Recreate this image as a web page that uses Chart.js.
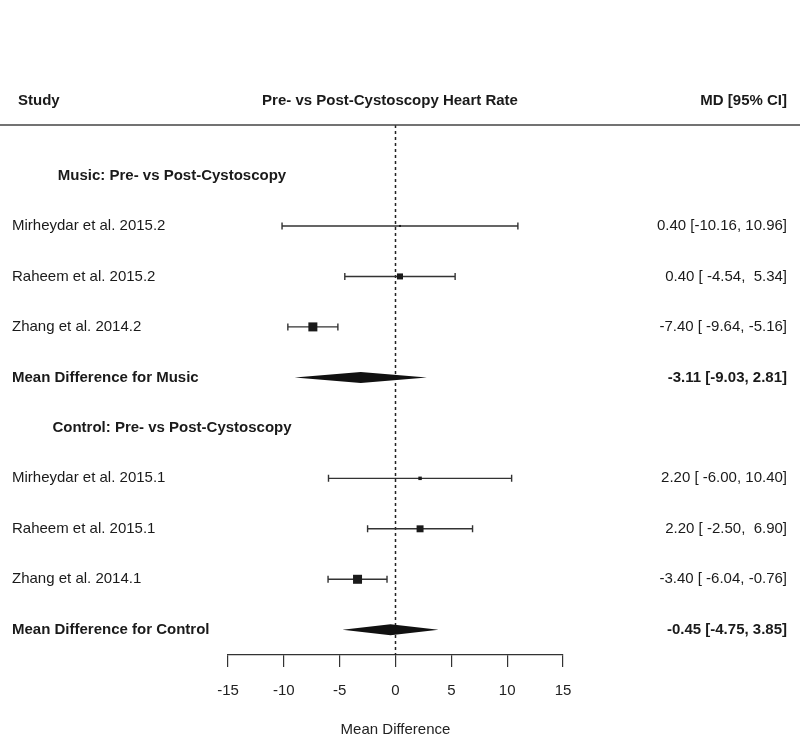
<!DOCTYPE html>
<html>
<head>
<meta charset="utf-8">
<title>Pre- vs Post-Cystoscopy Heart Rate</title>
<script src="https://cdn.jsdelivr.net/npm/chart.js@4.4.0/dist/chart.umd.min.js"></script>
<style>
  html, body { margin: 0; padding: 0; background: #fff; }
  canvas { display: block; }
</style>
</head>
<body>
<canvas id="forest" width="800" height="735"></canvas>
<script>
// study data
const groups = ["Music: Pre- vs Post-Cystoscopy", "Control: Pre- vs Post-Cystoscopy"];
const studies = ["Mirheydar et al. 2015.2", "Raheem et al. 2015.2", "Zhang et al. 2014.2",
                 "Mirheydar et al. 2015.1", "Raheem et al. 2015.1", "Zhang et al. 2014.1"];
const studyGroup = [0, 0, 0, 1, 1, 1];
const md = [0.40, 0.40, -7.40, 2.20, 2.20, -3.40];
const ciLow = [-10.16, -4.54, -9.64, -6.00, -2.50, -6.04];
const ciHigh = [10.96, 5.34, -5.16, 10.40, 6.90, -0.76];
const weights = [3.3, 30, 67, 10, 40, 67]; // relative weight (box size)

// subgroup summaries
const pooledLabels = ["Mean Difference for Music", "Mean Difference for Control"];
const pooledMd = [-3.11, -0.45];
const pooledLow = [-9.03, -4.75];
const pooledHigh = [2.81, 3.85];

const xTicks = [-15, -10, -5, 0, 5, 10, 15];

const FONT = '"Liberation Sans", Arial, Helvetica, sans-serif';
Chart.defaults.font.family = FONT;

// build the row layout: group header, studies, pooled diamond
let rows = [];
let r = 0;
groups.forEach((g, gi) => {
  rows.push({ kind: 'group', text: g, y: r++ });
  studies.forEach((s, i) => {
    if (studyGroup[i] === gi) rows.push({ kind: 'study', i: i, y: r++ });
  });
  rows.push({ kind: 'pooled', i: gi, y: r++ });
});

function f2(v) { return v.toFixed(2); }
function studyText(i) {
  return f2(md[i]) + ' [' + f2(ciLow[i]).padStart(6) + ', ' + f2(ciHigh[i]).padStart(5) + ']';
}
function pooledText(i) {
  return f2(pooledMd[i]) + ' [' + f2(pooledLow[i]) + ', ' + f2(pooledHigh[i]) + ']';
}

const studyRows = rows.filter(o => o.kind === 'study');

const forestPlugin = {
  id: 'forest',
  beforeDatasetsDraw(chart) {
    const { ctx, chartArea, scales: { x, y } } = chart;
    ctx.save();
    // dotted line of no effect
    const x0 = x.getPixelForValue(0);
    ctx.strokeStyle = '#222';
    ctx.lineWidth = 1.5;
    ctx.setLineDash([3, 3]);
    ctx.beginPath();
    ctx.moveTo(x0, chartArea.top);
    ctx.lineTo(x0, chartArea.bottom);
    ctx.stroke();
    ctx.setLineDash([]);

    // confidence intervals with end caps
    ctx.strokeStyle = '#333';
    ctx.lineWidth = 1.4;
    studyRows.forEach(o => {
      const yp = y.getPixelForValue(o.y);
      const a = x.getPixelForValue(ciLow[o.i]);
      const b = x.getPixelForValue(ciHigh[o.i]);
      ctx.beginPath();
      ctx.moveTo(a, yp); ctx.lineTo(b, yp);
      ctx.moveTo(a, yp - 3.5); ctx.lineTo(a, yp + 3.5);
      ctx.moveTo(b, yp - 3.5); ctx.lineTo(b, yp + 3.5);
      ctx.stroke();
    });
    ctx.restore();
  },
  afterDatasetsDraw(chart) {
    const { ctx, chartArea, scales: { x, y } } = chart;
    ctx.save();

    // separator under the header
    ctx.strokeStyle = '#444';
    ctx.lineWidth = 1.5;
    ctx.beginPath();
    ctx.moveTo(0, chartArea.top);
    ctx.lineTo(chart.width, chartArea.top);
    ctx.stroke();

    // summary diamonds
    ctx.fillStyle = '#111';
    rows.filter(o => o.kind === 'pooled').forEach(o => {
      const yp = y.getPixelForValue(o.y);
      ctx.beginPath();
      ctx.moveTo(x.getPixelForValue(pooledLow[o.i]), yp);
      ctx.lineTo(x.getPixelForValue(pooledMd[o.i]), yp - 5.5);
      ctx.lineTo(x.getPixelForValue(pooledHigh[o.i]), yp);
      ctx.lineTo(x.getPixelForValue(pooledMd[o.i]), yp + 5.5);
      ctx.closePath();
      ctx.fill();
    });

    // text columns
    const bold = 'bold 15px ' + FONT;
    const normal = '15px ' + FONT;
    const rightX = 787;
    ctx.fillStyle = '#1a1a1a';
    ctx.textBaseline = 'middle';

    const hy = chartArea.top - 24;
    ctx.font = bold;
    ctx.textAlign = 'left';
    ctx.fillText('Study', 18, hy);
    ctx.textAlign = 'center';
    ctx.fillText('Pre- vs Post-Cystoscopy Heart Rate', 390, hy);
    ctx.textAlign = 'right';
    ctx.fillText('MD [95% CI]', rightX, hy);

    rows.forEach(o => {
      const yp = y.getPixelForValue(o.y);
      if (o.kind === 'group') {
        ctx.font = bold;
        ctx.textAlign = 'center';
        ctx.fillText(o.text, 172, yp);
      } else if (o.kind === 'study') {
        ctx.font = normal;
        ctx.textAlign = 'left';
        ctx.fillText(studies[o.i], 12, yp);
        ctx.textAlign = 'right';
        ctx.fillText(studyText(o.i), rightX, yp);
      } else {
        ctx.font = bold;
        ctx.textAlign = 'left';
        ctx.fillText(pooledLabels[o.i], 12, yp);
        ctx.textAlign = 'right';
        ctx.fillText(pooledText(o.i), rightX, yp);
      }
    });
    ctx.restore();
  }
};

const config = {
  type: 'scatter',
  data: {
    datasets: [{
      label: 'MD',
      data: studyRows.map(o => ({ x: md[o.i], y: o.y })),
      pointStyle: 'rect',
      pointRadius: studyRows.map(o => 1.1 * Math.sqrt(weights[o.i]) / Math.SQRT2),
      pointBackgroundColor: '#1a1a1a',
      pointBorderWidth: 0
    }]
  },
  options: {
    responsive: false,
    animation: false,
    layout: { padding: { top: 125, left: 228, right: 237, bottom: -4 } },
    plugins: {
      legend: { display: false },
      tooltip: { enabled: false }
    },
    scales: {
      x: {
        type: 'linear',
        min: -15,
        max: 15,
        afterBuildTicks: axis => { axis.ticks = xTicks.map(v => ({ value: v })); },
        grid: { drawOnChartArea: false, drawTicks: true, tickLength: 12, color: '#333', lineWidth: 1.2 },
        border: { display: true, color: '#333', width: 1.2 },
        ticks: { color: '#222', font: { size: 15 }, padding: 15 },
        title: { display: true, text: 'Mean Difference', color: '#222', font: { size: 15 }, padding: { top: 6, bottom: 0 } }
      },
      y: { type: 'linear', display: false, min: -1, max: 9.5, reverse: true }
    }
  },
  plugins: [forestPlugin]
};

new Chart(document.getElementById('forest'), config);
</script>
</body>
</html>
